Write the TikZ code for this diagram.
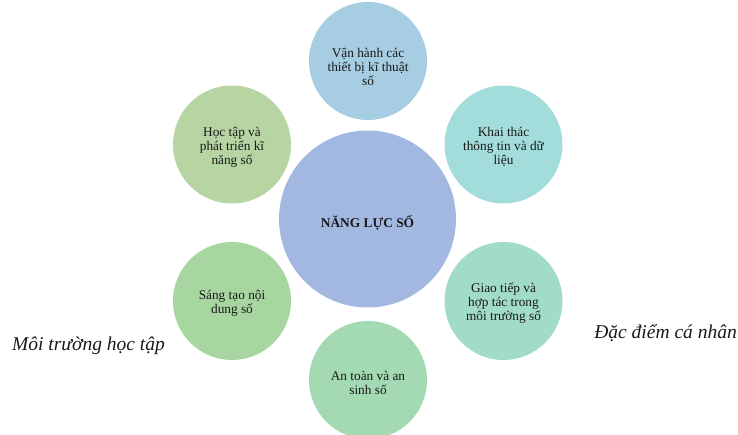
\documentclass[tikz,border=0pt]{standalone}
\usepackage{fontspec}
\setmainfont{Liberation Serif}
\definecolor{cTop}{HTML}{A6CDE1}
\definecolor{cTR}{HTML}{A2DDDB}
\definecolor{cBR}{HTML}{A1DCC8}
\definecolor{cBot}{HTML}{A3DAB4}
\definecolor{cBL}{HTML}{A8D6A1}
\definecolor{cTL}{HTML}{B6D5A2}
\definecolor{cMid}{HTML}{A2B8E0}
\begin{document}
\begin{tikzpicture}[x=1pt,y=-1pt,
  small/.style={circle,inner sep=0pt,minimum size=118pt},
  big/.style={circle,inner sep=0pt,minimum size=177pt},
  stxt/.style={align=center,inner sep=0pt,yshift=-2.5pt,
    font=\fontsize{13.3}{14}\selectfont,text=black!90},
  btxt/.style={inner sep=0pt,yshift=-4pt,
    font=\fontsize{13.4}{14}\selectfont\bfseries,text=black!90},
  side/.style={font=\fontsize{19.5}{21}\selectfont\itshape,text=black!90,inner sep=0pt}]
\useasboundingbox (0,0) rectangle (738,434);
\begin{scope}
\clip (0,0) rectangle (738,434);
\node[big,fill=cMid] (mid) at (367.5,219) {};
\node[small,fill=cTop] (top) at (368,61) {};
\node[small,fill=cTR] (tr) at (503.5,144.5) {};
\node[small,fill=cBR] (br) at (503.5,301) {};
\node[small,fill=cBot] (bot) at (368,380) {};
\node[small,fill=cBL] (bl) at (232,301) {};
\node[small,fill=cTL] (tl) at (232,144.5) {};
\end{scope}
\node[btxt] (midt) at (mid.center) {NĂNG LỰC SỐ};
\node[stxt,yshift=-3pt] (topt) at (top.center) {Vận hành các\\thiết bị kĩ thuật\\số};
\node[stxt] (trt) at (tr.center) {Khai thác\\thông tin và dữ\\liệu};
\node[stxt] (brt) at (br.center) {Giao tiếp và\\hợp tác trong\\môi trường số};
\node[stxt] (bott) at (bot.center) {An toàn và an\\sinh số};
\node[stxt] (blt) at (bl.center) {Sáng tạo nội\\dung số};
\node[stxt] (tlt) at (tl.center) {Học tập và\\phát triển kĩ\\năng số};
\node[side,anchor=west] (env) at (12,346) {Môi trường học tập};
\node[side,anchor=east] (pers) at (737,333) {Đặc điểm cá nhân};
\end{tikzpicture}
\end{document}
